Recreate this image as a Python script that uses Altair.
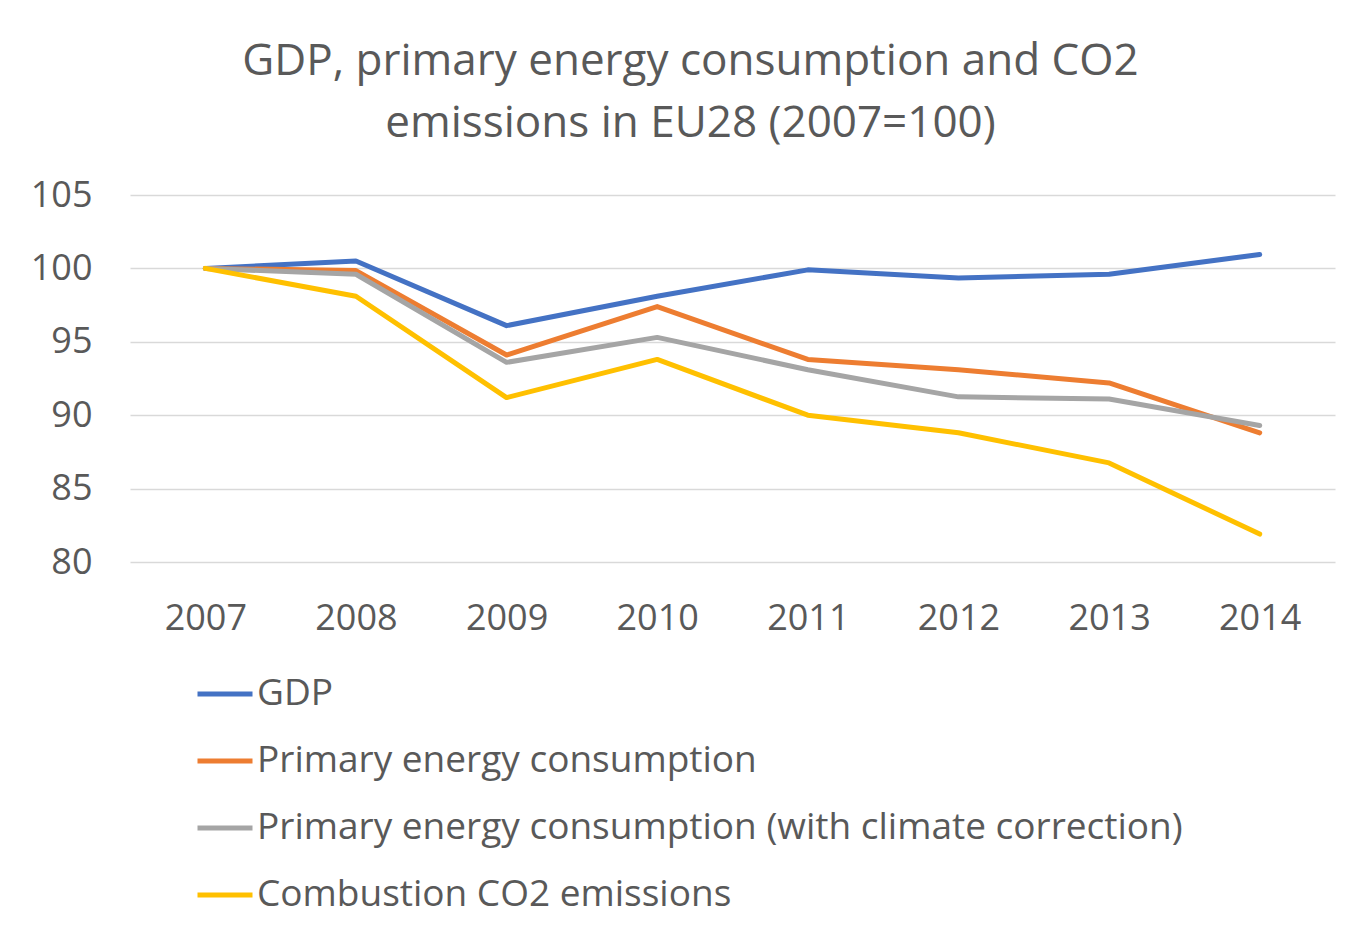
import altair as alt
import pandas as pd

years = ["2007", "2008", "2009", "2010", "2011", "2012", "2013", "2014"]
gdp = [100.0, 100.5, 96.1, 98.1, 99.9, 99.35, 99.6, 100.95]
pec = [100.0, 99.85, 94.1, 97.4, 93.8, 93.1, 92.2, 88.8]
pec_cc = [100.0, 99.6, 93.6, 95.3, 93.1, 91.25, 91.1, 89.3]
co2 = [100.0, 98.1, 91.2, 93.8, 90.0, 88.8, 86.75, 81.9]

series_names = [
    "GDP",
    "Primary energy consumption",
    "Primary energy consumption (with climate correction)",
    "Combustion CO2 emissions",
]
series_values = [gdp, pec, pec_cc, co2]
colors = ["#4472C4", "#ED7D31", "#A5A5A5", "#FFC000"]

rows = []
for name, vals in zip(series_names, series_values):
    for y, v in zip(years, vals):
        rows.append({"Year": y, "Series": name, "Value": v})
df = pd.DataFrame(rows)

FONT = "Open Sans"
GREY = "#595959"

chart = (
    alt.Chart(df)
    .mark_line(strokeWidth=5, strokeCap="round", strokeJoin="round")
    .encode(
        x=alt.X(
            "Year:N",
            sort=years,
            scale=alt.Scale(type="point", padding=0.5),
            axis=alt.Axis(
                title=None,
                labelAngle=0,
                ticks=False,
                domain=False,
                grid=False,
                labelPadding=39,
                labelFontSize=36,
                labelColor=GREY,
                labelFont=FONT,
            ),
        ),
        y=alt.Y(
            "Value:Q",
            scale=alt.Scale(domain=[80, 105], nice=False, zero=False),
            axis=alt.Axis(
                title=None,
                values=[80, 85, 90, 95, 100, 105],
                ticks=False,
                domain=False,
                grid=True,
                gridColor="#D9D9D9",
                gridWidth=1.5,
                labelPadding=38,
                labelFontSize=36,
                labelColor=GREY,
                labelFont=FONT,
            ),
        ),
        color=alt.Color(
            "Series:N",
            sort=series_names,
            scale=alt.Scale(domain=series_names, range=colors),
            legend=alt.Legend(
                title=None,
                orient="none",
                legendX=65,
                legendY=469,
                direction="vertical",
                symbolType="stroke",
                symbolSize=3025,
                symbolStrokeWidth=5,
                labelFontSize=37,
                labelFont=FONT,
                labelColor=GREY,
                labelOffset=2,
                labelLimit=2000,
                rowPadding=19,
                padding=0,
            ),
        ),
    )
    .properties(
        width=1205,
        height=367,
        autosize=alt.AutoSizeParams(type="none"),
        padding={"left": 122, "top": 187, "right": 5, "bottom": 355},
        title=alt.TitleParams(
            text=["GDP, primary energy consumption and CO2", "emissions in EU28 (2007=100)"],
            fontSize=44,
            font=FONT,
            fontWeight="normal",
            color=GREY,
            anchor="middle",
            dx=-42,
            lineHeight=62,
            offset=31,
        ),
    )
    .configure_view(stroke=None)
)

chart.save("out.html", embed_options={"renderer": "svg", "actions": False})
